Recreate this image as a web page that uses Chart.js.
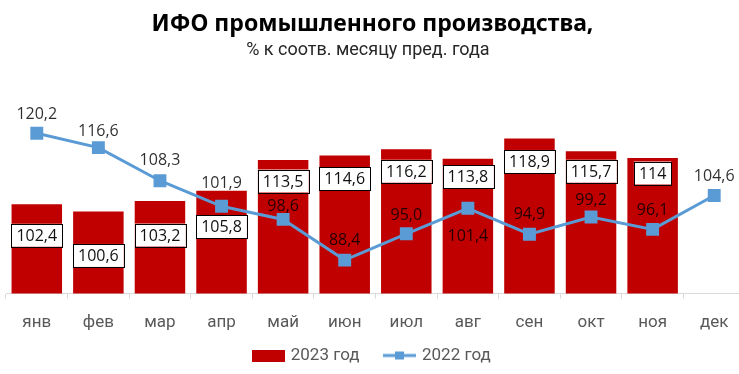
<!DOCTYPE html>
<html>
<head>
<meta charset="utf-8">
<script src="https://cdn.jsdelivr.net/npm/chart.js@4"></script>
<style>
  body { margin: 0; background: #fff; }
  #wrap { width: 739px; height: 374px; }
</style>
</head>
<body>
<div id="wrap"><canvas id="ifoChart" width="739" height="374"></canvas></div>
<script>
// ИФО промышленного производства - bars for 2023, line for 2022

// Data
var months = ["янв", "фев", "мар", "апр", "май", "июн", "июл", "авг", "сен", "окт", "ноя", "дек"];
var values2023 = [102.4, 100.6, 103.2, 105.8, 113.5, 114.6, 116.2, 113.8, 118.9, 115.7, 114, null];
var values2022 = [120.2, 116.6, 108.3, 101.9, 98.6, 88.4, 95.0, 101.4, 94.9, 99.2, 96.1, 104.6];

// where the labels sit (pixels from bar top / from the point), hand placed like in the original
var barLabelShift = [31, 44, 34, 36, 21, 23, 22, 18, 23, 20, 15, 0];
var lineLabelShift = [-19, -16, -20, -23, -13, -20, -18, 28, -20, -17, -19, -19];

var RED = "#C00000";
var BLUE = "#5B9BD5";
var LABEL_FONT = '16px "Open Sans"';

// little pictures for the legend
function legendIcon(kind) {
  var c = document.createElement("canvas");
  c.width = 33; c.height = 12;
  var g = c.getContext("2d");
  if (kind == "bar") {
    g.fillStyle = RED;
    g.fillRect(0, 0, 33, 12);
  } else {
    g.strokeStyle = BLUE;
    g.lineWidth = 3;
    g.beginPath(); g.moveTo(0, 6); g.lineTo(33, 6); g.stroke();
    g.fillStyle = BLUE;
    g.fillRect(12, 2, 9, 8);
  }
  return c;
}

function fmt(v, fixed) {
  var s = fixed ? v.toFixed(1) : String(v);
  return s.replace(".", ",");
}

// draws the data labels: boxed ones on bars, plain ones over the line
var labelPlugin = {
  id: "labels",
  afterDatasetsDraw: function(chart) {
    var ctx = chart.ctx;
    ctx.save();
    ctx.font = LABEL_FONT;
    ctx.textAlign = "center";
    ctx.textBaseline = "middle";

    var bars = chart.getDatasetMeta(0).data;
    bars.forEach(function(bar, i) {
      var v = values2023[i];
      if (v == null) return;
      var txt = fmt(v, false);
      var w = ctx.measureText(txt).width + 10;
      var h = 23;
      var cy = bar.y + barLabelShift[i];
      ctx.fillStyle = "#fff";
      ctx.fillRect(bar.x - w / 2, cy - h / 2, w, h);
      ctx.strokeStyle = "#000";
      ctx.lineWidth = 1;
      ctx.strokeRect(Math.round(bar.x - w / 2) + 0.5, Math.round(cy - h / 2) + 0.5, Math.round(w), h);
      ctx.fillStyle = "#111";
      ctx.fillText(txt, bar.x, cy + 1);
    });

    var pts = chart.getDatasetMeta(1).data;
    pts.forEach(function(p, i) {
      ctx.fillStyle = "rgba(0,0,0,0.82)";
      ctx.fillText(fmt(values2022[i], true), p.x, p.y + lineLabelShift[i]);
    });
    ctx.restore();
  }
};

// the original plot runs a few px past the right edge of the picture
var stretchPlugin = {
  id: "stretch",
  afterLayout: function(chart) {
    var x = chart.scales.x;
    x.right += 6;
    x.width += 6;
    x.configure();
    chart.chartArea.right += 6;
    chart.chartArea.width += 6;
  }
};

var ifoChart = new Chart("ifoChart", {
  type: "bar",
  data: {
    labels: months,
    datasets: [{
      label: "2023 год",
      data: values2023,
      backgroundColor: RED,
      categoryPercentage: 0.82,
      barPercentage: 1,
      order: 1
    }, {
      type: "line",
      label: "2022 год",
      data: values2022,
      borderColor: BLUE,
      backgroundColor: BLUE,
      borderWidth: 3,
      pointStyle: "rect",
      pointRadius: 7,
      pointHoverRadius: 7,
      tension: 0,
      order: 0
    }]
  },
  options: {
    responsive: false,
    animation: false,
    layout: { autoPadding: false, padding: { left: 6, right: 0, top: 0, bottom: 0 } },
    scales: {
      x: {
        grid: { display: true, drawOnChartArea: false, offset: true, tickLength: 5, color: "#d9d9d9" },
        border: { display: true, color: "#d9d9d9" },
        ticks: { color: "#595959", font: { family: "Roboto", size: 17 }, padding: 14 }
      },
      y: {
        display: false,
        min: 80,
        max: 130
      }
    },
    plugins: {
      title: {
        display: true,
        text: "ИФО промышленного производства,",
        color: "#000",
        font: { family: "Noto Sans", size: 23, weight: "bold" },
        padding: { top: 11, bottom: 0 }
      },
      subtitle: {
        display: true,
        text: "% к соотв. месяцу пред. года\u2002",
        color: "#262626",
        font: { family: "Roboto", size: 18 },
        padding: { top: 1, bottom: 33 }
      },
      legend: {
        position: "bottom",
        labels: {
          usePointStyle: true,
          pointStyleWidth: 28,
          boxHeight: 12,
          color: "#595959",
          font: { family: "Roboto", size: 17 },
          padding: 0,
          sort: function(a, b) { return a.datasetIndex - b.datasetIndex; },
          generateLabels: function(chart) {
            var items = Chart.defaults.plugins.legend.labels.generateLabels(chart);
            items.forEach(function(it) {
              it.pointStyle = legendIcon(it.datasetIndex == 0 ? "bar" : "line");
              // a bit more room between the two entries
              if (it.datasetIndex == 0) it.text = it.text + "\u2002\u2002\u2002";
            });
            return items;
          }
        }
      },
      tooltip: { enabled: false }
    }
  },
  plugins: [labelPlugin, stretchPlugin]
});
</script>
</body>
</html>
